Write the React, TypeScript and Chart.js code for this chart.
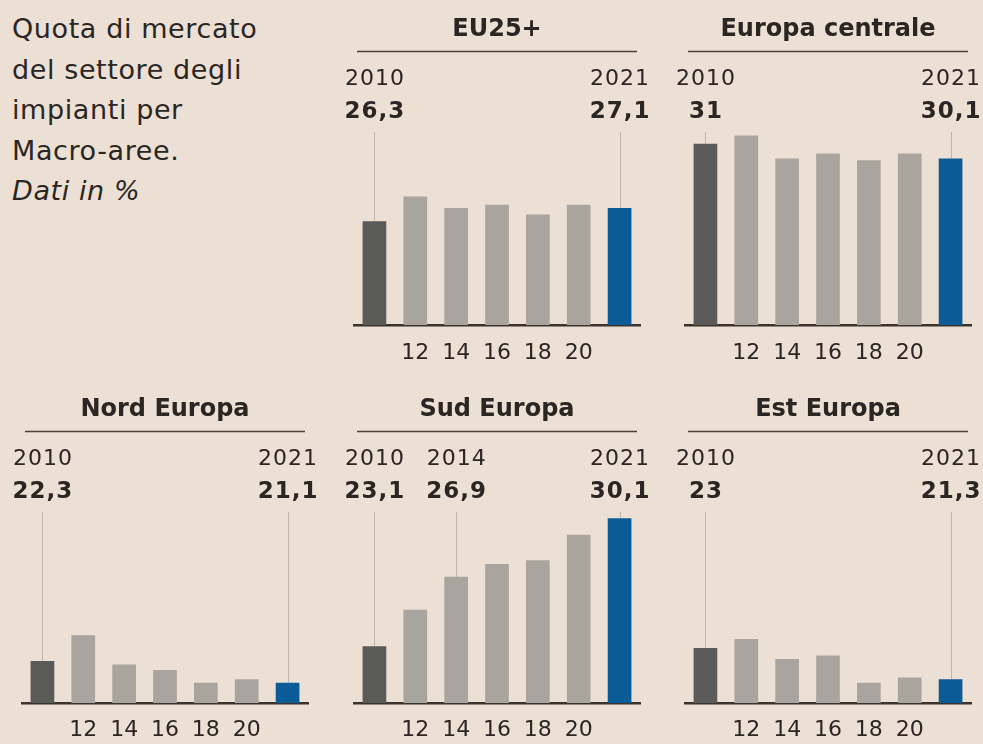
import React, { useEffect, useRef } from 'react';
import { Chart, registerables } from 'chart.js';

Chart.register(...registerables);

// ---------- data ----------
const YEARS = ['2010', '2012', '2014', '2016', '2018', '2020', '2021'];
const TICK_LABELS = ['', '12', '14', '16', '18', '20', ''];

const EU25_VALUES = [26.3, 27.8, 27.1, 27.3, 26.7, 27.3, 27.1];
const CENTRAL_VALUES = [31, 31.5, 30.1, 30.4, 30.0, 30.4, 30.1];
const NORTH_VALUES = [22.3, 23.7, 22.1, 21.8, 21.1, 21.3, 21.1];
const SOUTH_VALUES = [23.1, 25.1, 26.9, 27.6, 27.8, 29.2, 30.1];
const EAST_VALUES = [23, 23.5, 22.4, 22.6, 21.1, 21.4, 21.3];

const DEFAULT_MARKS = [0, 6];
const SOUTH_MARKS = [0, 2, 6];

const Y_MIN = 20;
const Y_MAX = 32;

// ---------- style ----------
const BG = '#ecdfd3';
const TEXT = '#2a2623';
const DARK_BAR = '#5a5a58';
const LIGHT_BAR = '#a9a59e';
const BLUE_BAR = '#0b5b96';
const BASELINE = '#3a332e';
const RULE = '#4a423b';
const LEADER = '#bdb5ad';
const FONT = '"DejaVu Sans", "Noto Sans", sans-serif';

type Panel = {
  title: string;
  values: number[];
  marks: number[];
  col: number;
  row: number;
};

const PANELS: Panel[] = [
  { title: 'EU25+', values: EU25_VALUES, marks: DEFAULT_MARKS, col: 1, row: 0 },
  { title: 'Europa centrale', values: CENTRAL_VALUES, marks: DEFAULT_MARKS, col: 2, row: 0 },
  { title: 'Nord Europa', values: NORTH_VALUES, marks: DEFAULT_MARKS, col: 0, row: 1 },
  { title: 'Sud Europa', values: SOUTH_VALUES, marks: SOUTH_MARKS, col: 1, row: 1 },
  { title: 'Est Europa', values: EAST_VALUES, marks: DEFAULT_MARKS, col: 2, row: 1 },
];

const COL_LEFT = [2, 334, 665];
const CANVAS_W = 326;
const SIDE_PAD = 20;
const ROWS = [
  { top: 0, height: 381, titleBottom: 82.6, tickPad: 14.8 },
  { top: 380, height: 377, titleBottom: 58.8, tickPad: 13.8 },
];
const TITLE_TOP = 15.8;
const RULE_Y = 51.5;
const YEAR_Y = 79.5;
const VALUE_Y = 112.5;
const LEADER_TOP = 132;

const fmt = (v: number) => String(v).replace('.', ',');

const annotPlugin = {
  id: 'annot',
  beforeDatasetsDraw(chart: any, _args: any, opts: any) {
    const { ctx } = chart;
    const xs = chart.scales.x;
    const ys = chart.scales.y;
    ctx.save();
    ctx.strokeStyle = LEADER;
    ctx.lineWidth = 1;
    for (const i of opts.marks as number[]) {
      const x = Math.round(xs.getPixelForValue(i)) + 0.5;
      const yTop = ys.getPixelForValue(opts.values[i]);
      ctx.beginPath();
      ctx.moveTo(x, LEADER_TOP);
      ctx.lineTo(x, yTop);
      ctx.stroke();
    }
    ctx.restore();
  },
  afterDraw(chart: any, _args: any, opts: any) {
    const { ctx, chartArea } = chart;
    const xs = chart.scales.x;
    ctx.save();
    ctx.strokeStyle = RULE;
    ctx.lineWidth = 1.5;
    ctx.beginPath();
    ctx.moveTo(chartArea.left + 3, RULE_Y);
    ctx.lineTo(chartArea.right - 3, RULE_Y);
    ctx.stroke();
    ctx.fillStyle = TEXT;
    ctx.textAlign = 'center';
    ctx.textBaseline = 'middle';
    if ('letterSpacing' in ctx) (ctx as any).letterSpacing = '1px';
    for (const i of opts.marks as number[]) {
      const x = xs.getPixelForValue(i) + 0.5;
      ctx.font = `22px ${FONT}`;
      ctx.fillText(YEARS[i], x, YEAR_Y);
      ctx.font = `bold 23px ${FONT}`;
      ctx.fillText(fmt(opts.values[i]), x, VALUE_Y);
    }
    if ('letterSpacing' in ctx) (ctx as any).letterSpacing = '0px';
    ctx.restore();
  },
};

function PanelChart({ panel }: { panel: Panel }) {
  const ref = useRef<HTMLCanvasElement | null>(null);
  const row = ROWS[panel.row];
  useEffect(() => {
    if (!ref.current) return;
    const colors = panel.values.map((_, i) =>
      i === 0 ? DARK_BAR : i === panel.values.length - 1 ? BLUE_BAR : LIGHT_BAR
    );
    const chart = new Chart(ref.current, {
      type: 'bar',
      data: {
        labels: YEARS,
        datasets: [
          {
            data: panel.values,
            backgroundColor: colors,
            borderWidth: 0,
            base: Y_MIN,
            barPercentage: 0.58,
            categoryPercentage: 1,
          } as any,
        ],
      },
      plugins: [annotPlugin],
      options: {
        animation: false,
        responsive: false,
        devicePixelRatio: 1,
        layout: { padding: { left: SIDE_PAD, right: SIDE_PAD, top: 0, bottom: 0 } },
        scales: {
          x: {
            type: 'category',
            offset: true,
            z: 1,
            grid: { display: false, drawTicks: false, tickLength: 0 },
            border: { display: true, color: BASELINE, width: 2.5 },
            ticks: {
              autoSkip: false,
              maxRotation: 0,
              minRotation: 0,
              padding: row.tickPad,
              color: TEXT,
              font: { family: FONT, size: 22, lineHeight: 1.2 },
              callback: (_v: any, idx: number) => TICK_LABELS[idx],
            },
          },
          y: {
            display: false,
            min: Y_MIN,
            max: Y_MAX,
          },
        },
        plugins: {
          legend: { display: false },
          tooltip: { enabled: false },
          title: {
            display: true,
            text: panel.title,
            color: TEXT,
            font: { family: FONT, size: 24, weight: 'bold', lineHeight: 1.2 },
            padding: { top: TITLE_TOP, bottom: row.titleBottom },
          },
          annot: { values: panel.values, marks: panel.marks },
        } as any,
      },
    });
    return () => chart.destroy();
  }, [panel]);
  return (
    <canvas
      ref={ref}
      width={CANVAS_W}
      height={row.height}
      style={{
        position: 'absolute',
        left: COL_LEFT[panel.col],
        top: row.top,
        width: CANVAS_W,
        height: row.height,
      }}
    />
  );
}

const DESCRIPTION = ['Quota di mercato', 'del settore degli', 'impianti per', 'Macro-aree.'];
const UNIT_NOTE = 'Dati in %';

export default function App() {
  useEffect(() => {
    document.body.style.background = BG;
  }, []);
  return (
    <div
      style={{
        position: 'absolute',
        left: 0,
        top: 0,
        width: 983,
        height: 744,
        overflow: 'hidden',
        background: BG,
      }}
    >
      <div
        style={{
          position: 'absolute',
          left: 12,
          top: 9,
          fontFamily: FONT,
          fontSize: 27,
          letterSpacing: '0.6px',
          lineHeight: '40.5px',
          color: TEXT,
          whiteSpace: 'nowrap',
        }}
      >
        {DESCRIPTION.map((l) => (
          <div key={l}>{l}</div>
        ))}
        <div style={{ fontStyle: 'italic' }}>{UNIT_NOTE}</div>
      </div>
      {PANELS.map((p) => (
        <PanelChart key={p.title} panel={p} />
      ))}
    </div>
  );
}
